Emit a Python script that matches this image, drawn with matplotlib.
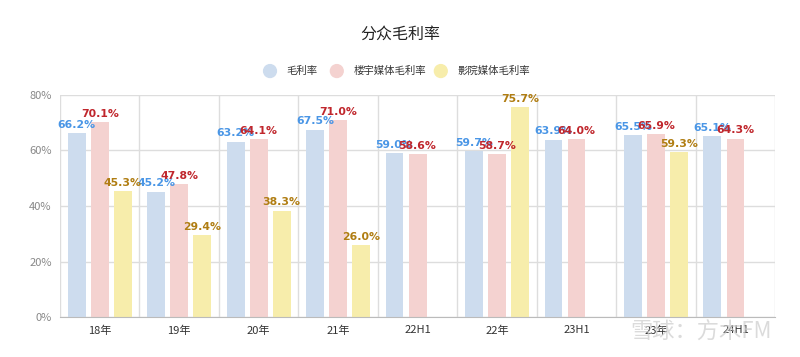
import numpy as np
import matplotlib
matplotlib.use("Agg")
import matplotlib.pyplot as plt

plt.rcParams['font.family'] = ['Noto Sans CJK SC', 'DejaVu Sans']

categories = ['18年', '19年', '20年', '21年', '22H1', '22年', '23H1', '23年', '24H1']
gross = [66.2, 45.2, 63.2, 67.5, 59.0, 59.7, 63.9, 65.5, 65.1]
building = [70.1, 47.8, 64.1, 71.0, 58.6, 58.7, 64.0, 65.9, 64.3]
cinema = [45.3, 29.4, 38.3, 26.0, np.nan, 75.7, np.nan, 59.3, np.nan]
series_names = ['毛利率', '楼宇媒体毛利率', '影院媒体毛利率']

bar_colors = ['#cddcee', '#f4d2d0', '#f7edab']
label_colors = ['#4a96e6', '#c0262c', '#b07d12']

fig = plt.figure(figsize=(8, 3.57), dpi=100)
ax = fig.add_axes([0.075, 0.112, 0.894, 0.622])

x = np.arange(len(categories))
w = 0.225
offs = [-0.29, 0, 0.29]
for vals, off, bc, lc in zip([gross, building, cinema], offs, bar_colors, label_colors):
    v = np.array(vals, dtype=float)
    ax.bar(x + off, v, width=w, color=bc, zorder=2)
    for xi, vi in zip(x, v):
        if np.isnan(vi):
            continue
        ax.text(xi + off, vi + 1.2, f'{vi:.1f}%', ha='center', va='bottom',
                color=lc, fontsize=7.8, fontweight='bold', family='DejaVu Sans', zorder=3)

ax.set_xlim(-0.5, len(categories) - 0.5)
ax.set_ylim(0, 80)
ax.set_yticks([0, 20, 40, 60, 80])
ax.set_yticklabels(['0%', '20%', '40%', '60%', '80%'])
ax.set_xticks(x)
ax.set_xticklabels(categories)
ax.tick_params(axis='both', length=0, colors='#333333', labelsize=8, pad=6)
ax.tick_params(axis='y', colors='#888888')

ax.yaxis.grid(True, color='#dddddd', linewidth=1, zorder=0)
for b in np.arange(-0.5, len(categories), 1):
    ax.axvline(b, color='#dddddd', linewidth=1, zorder=0)
for s in ['top', 'right', 'left']:
    ax.spines[s].set_visible(False)
ax.spines['bottom'].set_color('#bbbbbb')

fig.text(0.5, 0.905, '分众毛利率', ha='center', va='center', fontsize=11.5, color='#222222')

# legend
lx = [0.3375, 0.421, 0.551]
for px, name, c in zip(lx, series_names, bar_colors):
    fig.patches.append(matplotlib.patches.Ellipse((px, 0.801), 0.016, 0.036,
                                                  transform=fig.transFigure, color=c))
    fig.text(px + 0.021, 0.801, name, ha='left', va='center', fontsize=7.5, color='#333333')

fig.text(0.965, 0.07, '雪球：方木FM', ha='right', va='center', fontsize=16,
         color='#cccccc', alpha=0.7)

fig.savefig('out.png', dpi=100, facecolor='white')
